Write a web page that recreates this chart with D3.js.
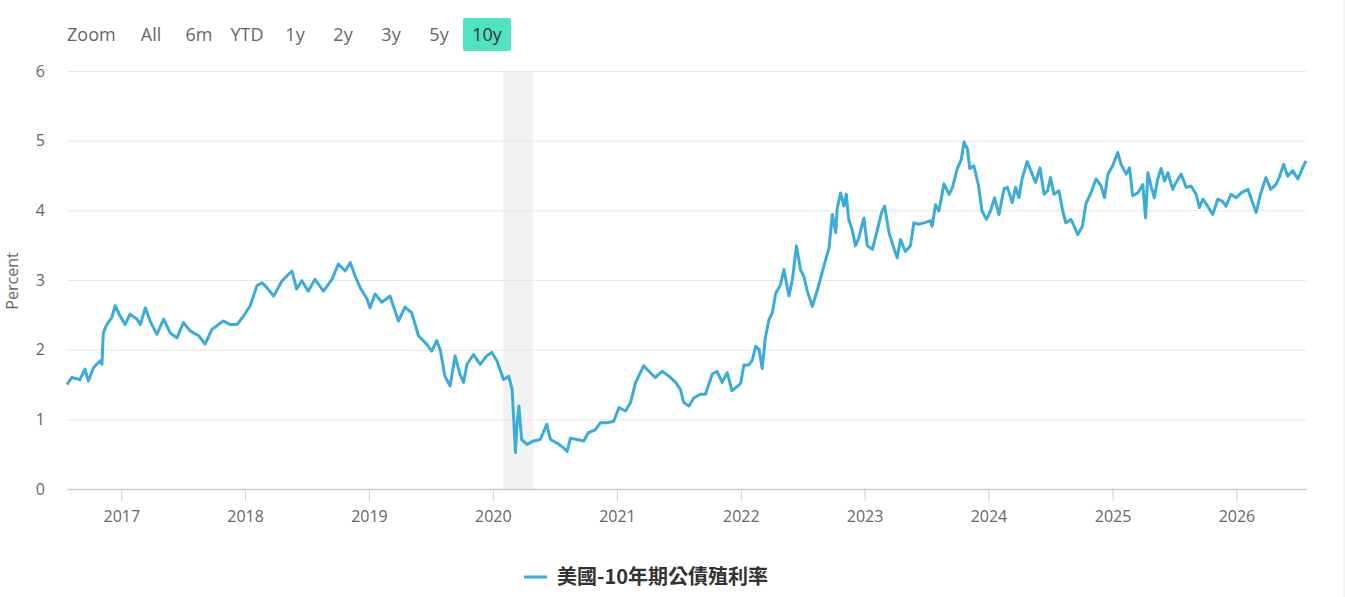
<!DOCTYPE html>
<html>
<head>
<meta charset="utf-8">
<script src="https://cdn.jsdelivr.net/npm/d3@7"></script>
<style>
  body { margin: 0; background: #fff; }
  text { font-family: "Open Sans", "Noto Sans", sans-serif; }
  .legend-text { font-family: "Noto Sans CJK TC", "Noto Sans", sans-serif; }
</style>
</head>
<body>
<script>
// 10y yield readings (date, percent)
const dates = [
  '2016-07-25','2016-08-08','2016-09-01','2016-09-16','2016-09-26','2016-10-11','2016-10-31','2016-11-05',
  '2016-11-09','2016-11-19','2016-12-04','2016-12-14','2016-12-29','2017-01-12','2017-01-27','2017-02-16',
  '2017-02-26','2017-03-13','2017-03-27','2017-04-16','2017-05-06','2017-05-25','2017-06-14','2017-07-03',
  '2017-07-23','2017-08-17','2017-09-05','2017-09-25','2017-10-14','2017-10-29','2017-11-18','2017-12-08',
  '2017-12-27','2018-01-16','2018-02-05','2018-02-20','2018-03-06','2018-03-26','2018-04-20','2018-05-19',
  '2018-06-02','2018-06-17','2018-07-06','2018-07-26','2018-08-20','2018-09-14','2018-10-03','2018-10-23',
  '2018-11-07','2018-11-21','2018-12-06','2018-12-26','2019-01-04','2019-01-19','2019-02-08','2019-03-04',
  '2019-03-29','2019-04-17','2019-05-07','2019-05-27','2019-06-20','2019-07-05','2019-07-20','2019-07-30',
  '2019-08-13','2019-08-28','2019-09-12','2019-09-26','2019-10-07','2019-10-17','2019-11-05','2019-11-25',
  '2019-12-14','2019-12-29','2020-01-13','2020-02-02','2020-02-17','2020-02-27','2020-03-08','2020-03-12',
  '2020-03-18','2020-03-26','2020-04-11','2020-04-30','2020-05-20','2020-06-08','2020-06-19','2020-07-08',
  '2020-07-28','2020-08-07','2020-08-17','2020-09-05','2020-09-25','2020-10-09','2020-10-29','2020-11-13',
  '2020-12-02','2020-12-22','2021-01-07','2021-01-26','2021-02-10','2021-02-25','2021-03-11','2021-03-21',
  '2021-04-05','2021-04-24','2021-05-14','2021-06-03','2021-06-23','2021-07-07','2021-07-17','2021-08-01',
  '2021-08-16','2021-09-04','2021-09-19','2021-10-09','2021-10-23','2021-11-07','2021-11-22','2021-12-06',
  '2021-12-21','2022-01-01','2022-01-10','2022-01-25','2022-02-04','2022-02-14','2022-02-24','2022-03-05',
  '2022-03-15','2022-03-25','2022-04-04','2022-04-14','2022-04-28','2022-05-08','2022-05-23','2022-06-02',
  '2022-06-14','2022-06-26','2022-07-06','2022-07-16','2022-07-31','2022-08-15','2022-09-03','2022-09-18',
  '2022-09-28','2022-10-08','2022-10-12','2022-10-22','2022-11-01','2022-11-08','2022-11-15','2022-11-25',
  '2022-12-05','2022-12-15','2022-12-30','2023-01-09','2023-01-24','2023-02-08','2023-02-20','2023-03-01',
  '2023-03-14','2023-03-28','2023-04-07','2023-04-17','2023-05-01','2023-05-16','2023-05-26','2023-06-10',
  '2023-06-25','2023-07-14','2023-07-19','2023-07-29','2023-08-08','2023-08-23','2023-09-07','2023-09-17',
  '2023-10-01','2023-10-13','2023-10-21','2023-10-31','2023-11-07','2023-11-19','2023-12-03','2023-12-13',
  '2023-12-26','2024-01-07','2024-01-19','2024-02-01','2024-02-16','2024-02-26','2024-03-11','2024-03-21',
  '2024-03-31','2024-04-09','2024-04-24','2024-05-09','2024-05-19','2024-06-01','2024-06-13','2024-06-23',
  '2024-07-02','2024-07-12','2024-07-27','2024-08-06','2024-08-16','2024-08-31','2024-09-10','2024-09-20',
  '2024-10-04','2024-10-14','2024-10-29','2024-11-13','2024-11-28','2024-12-08','2024-12-18','2025-01-01',
  '2025-01-16','2025-01-26','2025-02-10','2025-02-20','2025-03-01','2025-03-16','2025-03-31','2025-04-08',
  '2025-04-15','2025-04-24','2025-05-04','2025-05-14','2025-05-24','2025-06-03','2025-06-13','2025-06-27',
  '2025-07-07','2025-07-22','2025-08-06','2025-08-20','2025-09-04','2025-09-14','2025-09-24','2025-10-08',
  '2025-10-23','2025-11-07','2025-11-21','2025-12-01','2025-12-16','2025-12-31','2026-01-15','2026-02-04',
  '2026-02-14','2026-02-28','2026-03-14','2026-03-29','2026-04-12','2026-04-27','2026-05-07','2026-05-20',
  '2026-06-01','2026-06-16','2026-07-01','2026-07-15','2026-07-25'
]
const yields = [
  1.50, 1.60, 1.57, 1.72, 1.55, 1.74, 1.84, 1.79,
  2.24, 2.36, 2.46, 2.63, 2.48, 2.36, 2.51, 2.44,
  2.36, 2.60, 2.41, 2.22, 2.44, 2.24, 2.17, 2.39,
  2.27, 2.20, 2.08, 2.29, 2.36, 2.41, 2.36, 2.36,
  2.48, 2.63, 2.92, 2.96, 2.89, 2.77, 2.99, 3.13,
  2.87, 2.99, 2.84, 3.01, 2.84, 3.01, 3.23, 3.13,
  3.25, 3.06, 2.89, 2.73, 2.60, 2.80, 2.68, 2.77,
  2.41, 2.61, 2.53, 2.20, 2.08, 1.98, 2.13, 2.00,
  1.62, 1.48, 1.91, 1.65, 1.53, 1.79, 1.93, 1.79,
  1.91, 1.96, 1.84, 1.57, 1.62, 1.43, 0.52, 0.90,
  1.19, 0.71, 0.64, 0.69, 0.71, 0.93, 0.71, 0.66,
  0.59, 0.54, 0.73, 0.71, 0.69, 0.81, 0.85, 0.95,
  0.95, 0.97, 1.17, 1.12, 1.24, 1.53, 1.67, 1.77,
  1.69, 1.60, 1.69, 1.62, 1.53, 1.43, 1.24, 1.19,
  1.31, 1.36, 1.36, 1.65, 1.69, 1.53, 1.67, 1.41,
  1.47, 1.52, 1.78, 1.78, 1.85, 2.05, 2.00, 1.73,
  2.19, 2.43, 2.53, 2.81, 2.93, 3.15, 2.77, 3.00,
  3.49, 3.15, 3.05, 2.84, 2.62, 2.86, 3.20, 3.46,
  3.94, 3.68, 4.02, 4.25, 4.06, 4.23, 3.87, 3.73,
  3.49, 3.61, 3.89, 3.49, 3.44, 3.73, 3.97, 4.06,
  3.68, 3.46, 3.32, 3.58, 3.41, 3.49, 3.82, 3.80,
  3.82, 3.85, 3.77, 4.08, 3.99, 4.38, 4.23, 4.33,
  4.60, 4.73, 4.98, 4.88, 4.60, 4.64, 4.35, 3.99,
  3.87, 3.99, 4.18, 3.94, 4.31, 4.33, 4.11, 4.33,
  4.18, 4.45, 4.70, 4.52, 4.40, 4.61, 4.23, 4.28,
  4.47, 4.23, 4.28, 4.01, 3.82, 3.87, 3.77, 3.65,
  3.77, 4.09, 4.25, 4.45, 4.35, 4.18, 4.52, 4.64,
  4.83, 4.66, 4.52, 4.61, 4.21, 4.25, 4.37, 3.89,
  4.54, 4.35, 4.18, 4.45, 4.60, 4.42, 4.54, 4.30,
  4.40, 4.52, 4.33, 4.35, 4.23, 4.04, 4.16, 4.06,
  3.94, 4.16, 4.13, 4.06, 4.23, 4.18, 4.25, 4.30,
  4.16, 3.97, 4.25, 4.47, 4.30, 4.37, 4.47, 4.66,
  4.49, 4.57, 4.45, 4.61, 4.71
]
const yearTicks = [2017, 2018, 2019, 2020, 2021, 2022, 2023, 2024, 2025, 2026]
const yTicks = [0, 1, 2, 3, 4, 5, 6]
const recession = ['2020-02-01', '2020-04-30']
const buttons = ['All', '6m', 'YTD', '1y', '2y', '3y', '5y', '10y']
const selectedButton = '10y'
const seriesName = '美國-10年期公債殖利率'

const parse = d3.timeParse('%Y-%m-%d')
const data = dates.map((d, i) => ({date: parse(d), value: yields[i]}))

const width = 1345
const height = 597
const color = '#3aacdb'

const svg = d3.select('body').append('svg')
  .attr('width', width)
  .attr('height', height)

const xScale = d3.scaleTime()
  .domain([parse('2016-07-25'), parse('2026-07-25')])
  .range([67, 1306])

const yScale = d3.scaleLinear()
  .domain([0, 6])
  .range([489, 71])

// right border of the container
svg.append('line')
  .attr('x1', 1344).attr('x2', 1344)
  .attr('y1', 0).attr('y2', height)
  .attr('stroke', '#e8e8e8')

// range selector
svg.append('text')
  .attr('x', 67)
  .attr('y', 41)
  .attr('fill', '#666')
  .style('font-size', '18px')
  .text('Zoom')

const btn = svg.append('g').selectAll('g')
  .data(buttons)
  .enter()
  .append('g')
  .attr('transform', (d, i) => `translate(${127 + i * 48}, 18)`)

btn.append('rect')
  .attr('width', 48)
  .attr('height', 33)
  .attr('rx', 2)
  .attr('fill', d => d === selectedButton ? '#50e3c2' : 'none')

btn.append('text')
  .attr('x', 24)
  .attr('y', 23)
  .attr('text-anchor', 'middle')
  .attr('fill', d => d === selectedButton ? '#333' : '#666')
  .style('font-size', '18px')
  .text(d => d)

// recession band
svg.append('rect')
  .attr('x', xScale(parse(recession[0])))
  .attr('y', 71)
  .attr('width', xScale(parse(recession[1])) - xScale(parse(recession[0])))
  .attr('height', 418)
  .attr('fill', '#f2f2f2')

// gridlines + y labels
const yAxis = d3.axisLeft(yScale)
  .tickValues(yTicks)
  .tickSize(-(1306 - 67))
  .tickPadding(22)
  .tickFormat(d3.format('d'))

svg.append('g')
  .attr('transform', 'translate(67,0)')
  .call(yAxis)
  .call(g => g.select('.domain').remove())
  .call(g => g.selectAll('line').attr('stroke', '#e6e6e6'))
  .call(g => g.selectAll('text').attr('fill', '#666').style('font-size', '16px'))

svg.append('text')
  .attr('transform', 'translate(18,281) rotate(-90)')
  .attr('text-anchor', 'middle')
  .attr('fill', '#666')
  .style('font-size', '16px')
  .text('Percent')

// x axis
const xAxis = d3.axisBottom(xScale)
  .tickValues(yearTicks.map(y => new Date(y, 0, 1)))
  .tickSizeInner(12)
  .tickSizeOuter(0)
  .tickPadding(10)
  .tickFormat(d3.timeFormat('%Y'))

svg.append('g')
  .attr('transform', 'translate(0,489)')
  .call(xAxis)
  .call(g => g.select('.domain').attr('stroke', '#ccc').attr('stroke-width', 1.5))
  .call(g => g.selectAll('.tick line').attr('stroke', '#ccc'))
  .call(g => g.selectAll('text').attr('fill', '#666').style('font-size', '16px'))

// series
const line = d3.line()
  .x(d => xScale(d.date))
  .y(d => yScale(d.value))

svg.append('path')
  .datum(data)
  .attr('d', line)
  .attr('fill', 'none')
  .attr('stroke', color)
  .attr('stroke-width', 3)
  .attr('stroke-linejoin', 'round')

// legend
const legend = svg.append('g')
  .attr('transform', 'translate(524,577)')

legend.append('line')
  .attr('x1', 0).attr('x2', 23)
  .attr('stroke', color)
  .attr('stroke-width', 3)

legend.append('text')
  .attr('class', 'legend-text')
  .attr('x', 33)
  .attr('y', 7)
  .attr('fill', '#333')
  .style('font-size', '20px')
  .style('font-weight', 'bold')
  .text(seriesName)
</script>
</body>
</html>
